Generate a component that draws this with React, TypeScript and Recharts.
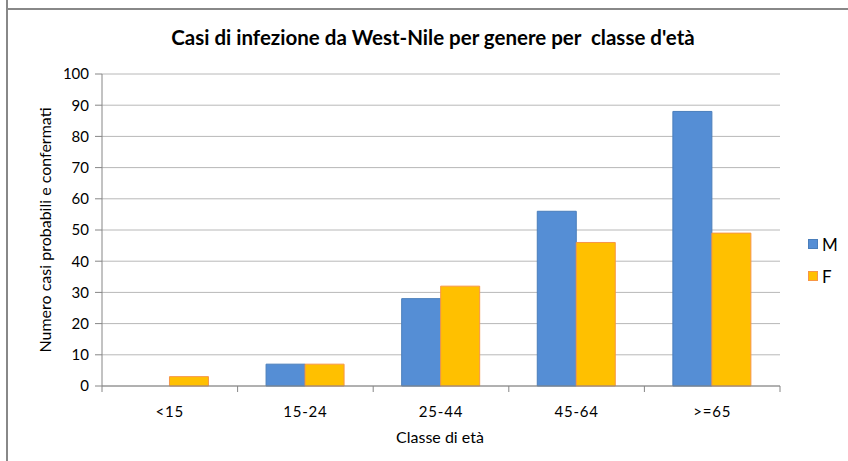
import React from 'react';
import { BarChart, Bar, XAxis, YAxis, CartesianGrid, Legend } from 'recharts';

const ageClasses = ['<15', '15-24', '25-44', '45-64', '>=65'];
const maleCases = [0, 7, 28, 56, 88];
const femaleCases = [3, 7, 32, 46, 49];
const yTicks = [0, 10, 20, 30, 40, 50, 60, 70, 80, 90, 100];

const SERIES = [
  { key: 'M', values: maleCases, fill: '#558ED5', stroke: '#4A7EBB' },
  { key: 'F', values: femaleCases, fill: '#FFC000', stroke: '#F79646' },
];

const data = ageClasses.map((c, i) => ({ classe: c, M: maleCases[i], F: femaleCases[i] }));

const FONT = 'Lato, "Open Sans", sans-serif';
const PLOT_LEFT = 102;
const PLOT_RIGHT = 780;
const BAND = (PLOT_RIGHT - PLOT_LEFT) / ageClasses.length;

function XTick(props: any) {
  const { x, y, payload, index } = props;
  const left = x - BAND / 2;
  return (
    <g>
      <line x1={left} y1={y - 8} x2={left} y2={y - 2} stroke="#868686" />
      {index === ageClasses.length - 1 && (
        <line x1={left + BAND} y1={y - 8} x2={left + BAND} y2={y - 2} stroke="#868686" />
      )}
      <text x={x} y={y + 23} textAnchor="middle" fontSize={15} letterSpacing={0.8} fill="#000" fontFamily={FONT}>
        {payload.value}
      </text>
    </g>
  );
}

function LegendBox() {
  return (
    <div style={{ fontFamily: FONT }}>
      {SERIES.map((s) => (
        <div key={s.key} style={{ display: 'flex', alignItems: 'center', height: 32 }}>
          <span
            style={{
              display: 'inline-block',
              width: 8,
              height: 8,
              background: s.fill,
              border: `1px solid ${s.stroke}`,
              marginRight: 4,
            }}
          />
          <span style={{ fontSize: 17, color: '#000' }}>{s.key}</span>
        </div>
      ))}
    </div>
  );
}

export default function App() {
  return (
    <div style={{ position: 'absolute', left: 0, top: 0, width: 848, height: 461, background: '#fff', overflow: 'hidden' }}>
      <div style={{ position: 'absolute', left: 6, top: 0, width: 2, height: 461, background: '#888' }} />
      <div style={{ position: 'absolute', left: 6, top: 8, width: 842, height: 2, background: '#888' }} />
      <div
        style={{
          position: 'absolute',
          left: 0,
          width: 866,
          top: 25,
          textAlign: 'center',
          fontFamily: FONT,
          fontSize: 20.5,
          fontWeight: 700,
          color: '#000',
        }}
      >
        Casi di infezione da West-Nile per genere per&nbsp; classe d'età
      </div>
      <div
        style={{
          position: 'absolute',
          left: 380,
          top: 427,
          width: 120,
          textAlign: 'center',
          fontFamily: FONT,
          fontSize: 16,
          color: '#000',
          whiteSpace: 'nowrap',
        }}
      >
        Classe di età
      </div>
      <div style={{ position: 'absolute', left: 0, top: 0 }}>
        <BarChart
          width={848}
          height={461}
          data={data}
          margin={{ top: 74, right: 848 - PLOT_RIGHT, bottom: 45, left: PLOT_LEFT - 40 }}
          barCategoryGap="21%"
          barGap={0}
        >
          <CartesianGrid vertical={false} stroke="#b8b8b8" />
          <XAxis
            dataKey="classe"
            tickLine={false}
            axisLine={{ stroke: '#868686' }}
            tick={<XTick />}
            height={30}
            interval={0}
          />
          <YAxis
            width={40}
            domain={[0, 100]}
            ticks={yTicks}
            interval={0}
            axisLine={{ stroke: '#868686' }}
            tickLine={{ stroke: '#868686' }}
            tickSize={7}
            tickMargin={6}
            tick={{ fontSize: 15, fill: '#000', fontFamily: FONT }}
            label={{
              value: 'Numero casi probabili e confermati',
              angle: -90,
              position: 'insideLeft',
              offset: 0,
              dx: -17,
              style: { fontSize: 16, fill: '#000', fontFamily: FONT, textAnchor: 'middle' },
            }}
          />
          <Legend
            layout="vertical"
            align="center"
            verticalAlign="middle"
            content={<LegendBox />}
            wrapperStyle={{ left: 808, top: 228, width: 40 }}
          />
          {SERIES.map((s) => (
            <Bar key={s.key} dataKey={s.key} fill={s.fill} stroke={s.stroke} strokeWidth={1} isAnimationActive={false} />
          ))}
        </BarChart>
      </div>
    </div>
  );
}
